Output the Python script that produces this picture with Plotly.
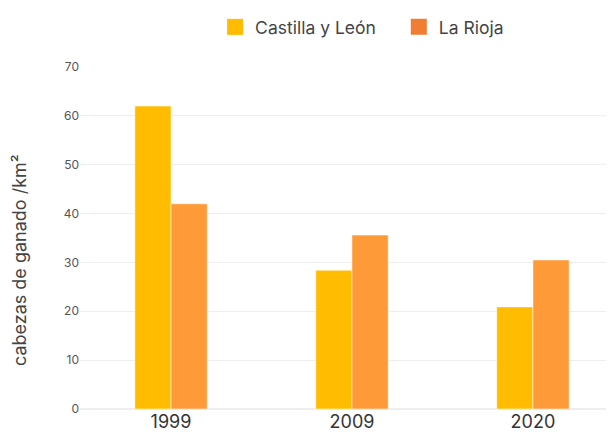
import plotly.graph_objects as go

years = ["1999", "2009", "2020"]
castilla = [62.0, 28.4, 20.9]
rioja = [42.0, 35.6, 30.5]

FONT = "Inter"
C_CYL = "#FFBC00"
C_RIO_BAR = "#FF9A38"
C_RIO_LEG = "#EF7D32"

fig = go.Figure()
fig.add_bar(x=years, y=castilla, name="Castilla y León", marker_color=C_CYL,
            marker_line=dict(color="rgba(255,255,255,0.5)", width=1), showlegend=False)
fig.add_bar(x=years, y=rioja, name="La Rioja", marker_color=C_RIO_BAR,
            marker_line=dict(color="rgba(255,255,255,0.5)", width=1), showlegend=False)
# legend-only entries (legend swatches are a touch darker than bars)
fig.add_scatter(x=[None], y=[None], mode="markers", name="Castilla y León", legend="legend",
                marker=dict(symbol="square", size=16, color=C_CYL))
fig.add_scatter(x=[None], y=[None], mode="markers", name="La Rioja", legend="legend2",
                marker=dict(symbol="square", size=16, color=C_RIO_LEG))

leg = dict(orientation="h", y=1.117, xanchor="left", yanchor="middle",
           font=dict(size=17.5, color="#444"), itemwidth=30, bgcolor="rgba(0,0,0,0)")

# page body has an 8px margin, so the figure is offset by 8px
fig.update_layout(
    width=606, height=429,
    template="plotly_white",
    barmode="group", bargap=0.6, bargroupgap=0,
    margin=dict(l=72, r=0, t=59, b=28),
    font=dict(family=FONT, color="#444"),
    legend=dict(leg, x=0.253),
    legend2=dict(leg, x=0.597),
    plot_bgcolor="white", paper_bgcolor="white",
)
# y title sits a bit below the plot's middle, so place it by hand
fig.add_annotation(text="cabezas de ganado /km²", textangle=-90, showarrow=False,
                   xref="paper", yref="paper", x=-0.112, y=0.436,
                   xanchor="center", yanchor="middle",
                   font=dict(size=18, color="#444"))
fig.update_xaxes(type="category", range=[-0.503, 2.448], showgrid=False,
                 tickfont=dict(size=18, color="#333"), ticks="", showline=False)
fig.update_yaxes(range=[0, 70], dtick=10, gridcolor="#EEEEEE", zerolinecolor="#EEEEEE",
                 tickfont=dict(size=12, color="#555"))

fig.write_html("out.html")
